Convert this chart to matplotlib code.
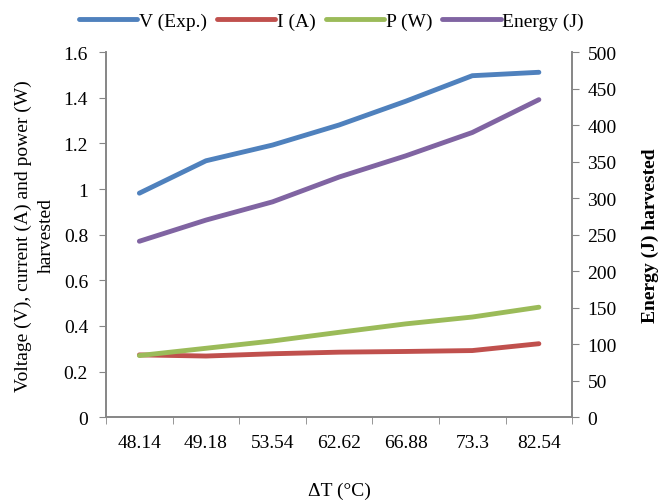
import numpy as np
import matplotlib
matplotlib.use("Agg")
import matplotlib.pyplot as plt

plt.rcParams["font.family"] = ["Liberation Serif", "DejaVu Serif"]

# data
delta_t = ["48.14", "49.18", "53.54", "62.62", "66.88", "73.3", "82.54"]
voltage = [0.982, 1.124, 1.193, 1.281, 1.385, 1.497, 1.512]
current = [0.273, 0.268, 0.278, 0.285, 0.288, 0.292, 0.322]
power = [0.270, 0.302, 0.334, 0.372, 0.409, 0.439, 0.482]
energy = [241, 270, 295, 329, 358, 390, 435]

grey = "#868686"
fs = 14
fig = plt.figure(figsize=(6.63, 5.02), dpi=100)
ax1 = fig.add_axes([0.160, 0.167, 0.703, 0.727])
ax2 = ax1.twinx()

x = np.arange(len(delta_t))
lw = 3.5
l1, = ax1.plot(x, voltage, color="#4F81BD", lw=lw, solid_capstyle="round", label="V (Exp.)")
l2, = ax1.plot(x, current, color="#C0504D", lw=lw, solid_capstyle="round", label="I (A)")
l3, = ax1.plot(x, power, color="#9BBB59", lw=lw, solid_capstyle="round", label="P (W)")
l4, = ax2.plot(x, energy, color="#8064A2", lw=lw, solid_capstyle="round", label="Energy (J)")

ax1.set_xlim(-0.5, len(delta_t) - 0.5)
ax1.set_ylim(0, 1.6)
ax2.set_ylim(0, 500)
ax1.set_yticks(np.arange(0, 1.61, 0.2))
ax1.set_yticklabels(["0", "0.2", "0.4", "0.6", "0.8", "1", "1.2", "1.4", "1.6"])
ax2.set_yticks(np.arange(0, 501, 50))

ax1.set_xticks(x)
ax1.set_xticklabels(delta_t)
ax1.set_xticks(np.arange(-0.5, len(delta_t)), minor=True)
ax1.tick_params(axis="x", which="major", length=0, pad=12, labelsize=fs)
ax1.tick_params(axis="x", which="minor", length=5, color=grey, direction="out")
ax1.tick_params(axis="y", length=5, color=grey, labelsize=fs, pad=8)
ax2.tick_params(axis="y", length=5, color=grey, labelsize=fs, pad=6)

for ax in (ax1, ax2):
    ax.spines["top"].set_visible(False)
    for s in ("left", "right", "bottom"):
        ax.spines[s].set_color(grey)
        ax.spines[s].set_linewidth(1.2)

ax1.set_ylabel("Voltage (V), current (A) and power (W)\nharvested", fontsize=fs, labelpad=6, linespacing=1.45)
ax2.set_ylabel("Energy (J) harvested", fontsize=fs, fontweight="bold", labelpad=18)
ax1.set_xlabel("ΔT (°C)", fontsize=fs, labelpad=22)

fig.legend(handles=[l1, l2, l3, l4], loc="center", bbox_to_anchor=(0.50, 0.956), ncol=4,
           frameon=False, fontsize=fs, handlelength=3.0, handletextpad=0.1, columnspacing=0.5)

fig.savefig("out.png", dpi=100)
